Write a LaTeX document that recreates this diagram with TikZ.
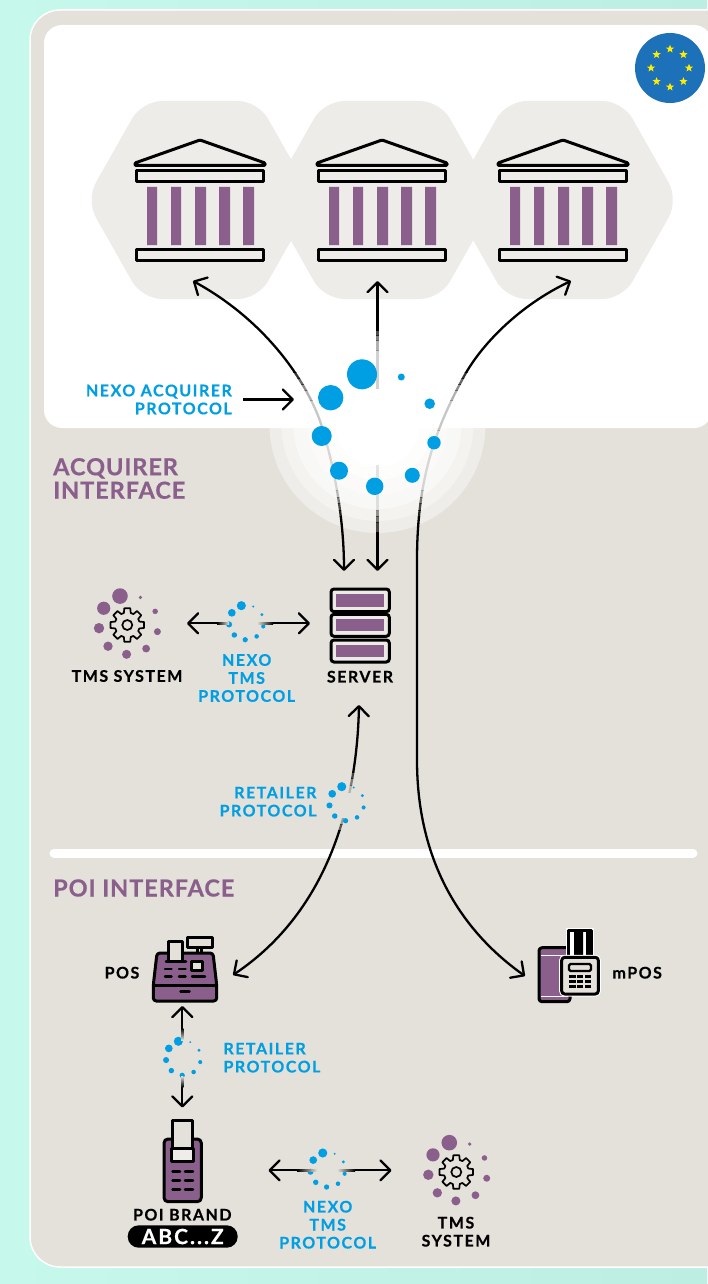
\documentclass[tikz,border=0pt]{standalone}
\usepackage{fontspec}
\setmainfont{Lato}
\newfontfamily\wide{Lato}[LetterSpace=9.5,FakeBold=0.5]
\newfontfamily\widehead{Lato}[LetterSpace=4.0,FakeBold=0.6]
\usetikzlibrary{arrows.meta,shapes.geometric,calc}
\definecolor{panel}{HTML}{E4E1DA}
\definecolor{hexc}{HTML}{EDECE8}
\definecolor{purp}{HTML}{8B5F8C}
\definecolor{blu}{HTML}{009FE3}
\definecolor{euc}{HTML}{1D71B8}
\definecolor{eustar}{HTML}{FFED00}
\definecolor{mintl}{HTML}{C6F9EC}
\definecolor{mintr}{HTML}{BCEFE2}
\tikzset{
  conn/.style={line width=2.3pt,draw=black,>={Straight Barb[length=10pt,width=20pt,round]}},
  ico/.style={line width=3pt,draw=black,line join=round},
  key/.style={line width=2.5pt,draw=black,line cap=round},
  bluet/.style={text=blu,font=\wide\bfseries\fontsize{16}{18}\selectfont,inner sep=0pt,align=center},
  blackt/.style={text=black,font=\wide\bfseries\fontsize{16}{18}\selectfont,inner sep=0pt,align=center},
  head/.style={text=purp,font=\widehead\bfseries\fontsize{23.5}{23.5}\selectfont,inner sep=0pt,align=left,anchor=west},
}
\newcommand\fadedpath[3]{\foreach \ya/\yb/\op in #1{\begin{scope}\clip (0,\ya) rectangle (707,\yb);\draw[conn,opacity=\op,#2] #3;\end{scope}}}
\newcommand\spinner[4]{\begin{scope}[shift={(#1,#2)},scale=#3]
  \fill[#4] (-16,-53.7) circle (15) (-47.3,-30.3) circle (12.7) (-56.3,8) circle (10)
   (-39,42.7) circle (9) (-3.3,58.3) circle (8.7) (34.3,47.3) circle (7.5)
   (56,14.7) circle (6.7) (51.7,-24.3) circle (5.3) (23.3,-51) circle (3.5);
\end{scope}}
\newcommand\gear[2]{\begin{scope}[shift={(#1,#2)}]
  \draw[line width=1.7pt,line join=round] (-16:12.5) \foreach \i in {0,...,7}{ -- (\i*45-16:12.5) -- (\i*45-10:17) -- (\i*45+10:17) -- (\i*45+16:12.5)} -- cycle;
  \draw[line width=1.7pt] (0,0) circle (5);
\end{scope}}
\newcommand\hexa[1]{\fill[hexc,rounded corners=20pt,shift={(#1,200)}] (-58,-99) -- (58,-99) -- (114,0) -- (58,99) -- (-58,99) -- (-114,0) -- cycle;}
\newcommand\bankicon[1]{\begin{scope}[shift={(#1,200)}]
  \draw[ico,rounded corners=1pt] (0,-60) -- (65,-37) -- (65,-34.5) -- (-65,-34.5) -- (-65,-37) -- cycle;
  \draw[ico] (-63.5,-29) rectangle (63.5,-18);
  \draw[ico] (-63.5,49.5) rectangle (63.5,60);
  \fill[purp] (-53,-13) rectangle (-43,45) (-29,-13) rectangle (-19,45) (-5,-13) rectangle (6,45) (19,-13) rectangle (30,45) (43,-13) rectangle (54,45);
\end{scope}}
\def\bandsL{270/372/1,372/378/.8,378/384/.6,384/390/.45,390/400/.3,400/430/.22,430/490/.14,490/497/.25,497/503/.5,503/510/.7,510/516/.85,516/995/1}
\def\bandsU{270/330/1,330/335/.7,335/340/.5,340/350/.3,350/390/.18}
\def\bandsD{465/510/.1,510/516/.4,516/522/.55,522/532/.7,532/580/1}
\def\bandsR{695/772/1,772/778/.7,778/785/.45,785/792/.2,818/824/.3,824/830/.6,830/990/1}
\begin{document}
\begin{tikzpicture}[x=1pt,y=-1pt]
\useasboundingbox (0,0) rectangle (707,1284);
% background
\shade[left color=mintl,right color=mintr] (0,0) rectangle (707,1284);
\fill[panel,draw=white,line width=1.5pt,rounded corners=30pt] (30,10) rectangle (740,1267);
% glow
\fill[panel!60!white] (377.5,425) circle (108);
\fill[panel!40!white] (377.5,425) circle (96);
\fill[panel!25!white] (377.5,425) circle (84);
\fill[panel!15!white] (377.5,425) circle (70);
\fill[panel!8!white] (377.5,425) circle (55);
\fill[white] (377.5,425) circle (42);
% white panel
\fill[white,rounded corners=18pt] (44,25) rectangle (712,428);
% separator
\draw[white,line width=9pt,line cap=round] (54,853) -- (693,853);
% EU
\fill[euc] (670,68) circle (35);
\foreach \a in {0,45,...,315}{\node[star,star points=5,star point ratio=2.3,fill=eustar,inner sep=0pt,minimum size=8.5pt] at ($(670,68)+(\a:19)$) {};}
% banks
\hexa{200}\hexa{382}\hexa{564.5}
\bankicon{200}\bankicon{382}\bankicon{563}
% connector ends
\coordinate (bankA) at (193,281);
\coordinate (bankB) at (377.5,281);
\coordinate (bankC) at (571,281);
\coordinate (srvL) at (344,571);
\coordinate (srvM) at (377.5,571);
\coordinate (srvB) at (359,705);
\coordinate (posR) at (233,975);
\coordinate (mposL) at (525,976);
\coordinate (midTop) at (377.5,389);
\coordinate (midBot) at (377.5,465);
\fadedpath{\bandsL}{<->}{(srvL) .. controls (344,520) and (335,470) .. (322,427) .. controls (309,385) and (268,322) .. (bankA)}
\fadedpath{\bandsL}{<->}{(mposL) .. controls (460,930) and (417,860) .. (417,760) -- (417,560) .. controls (417,480) and (435,430) .. (462,380) .. controls (480,345) and (520,305) .. (bankC)}
\fadedpath{\bandsU}{->}{(midTop) -- (bankB)}
\fadedpath{\bandsD}{->}{(midBot) -- (srvM)}
\fadedpath{\bandsR}{<->}{(srvB) .. controls (357,800) and (330,910) .. (posR)}
% nexo acquirer arrow
\node[bluet,align=right,anchor=east] (nexoacq) at (232,399.5) {NEXO ACQUIRER\\PROTOCOL};
\coordinate (nexoA) at (243,399.5);
\coordinate (nexoB) at (294,399.5);
\draw[conn,->] (nexoA) -- (nexoB);
% spinners
\spinner{378}{428}{1}{blu}
\spinner{246.2}{622}{.304}{blu}
\spinner{346.6}{803}{.304}{blu}
\spinner{183.2}{1057.6}{.304}{blu}
\spinner{327.6}{1169.3}{.304}{blu}
\spinner{128.3}{624}{.52}{purp}
\spinner{457.6}{1170.6}{.52}{purp}
\gear{127.3}{625}
\gear{456.3}{1172}
% TMS arrows
\coordinate (tmsR) at (187,623.3);
\coordinate (srvW) at (310,623.3);
\draw[conn,->] (217,623.3) -- (tmsR);
\shade[left color=black,right color=panel] (217,622.15) rectangle (229,624.45);
\draw[conn,->] (273,623.3) -- (srvW);
\shade[left color=panel,right color=black] (257,622.15) rectangle (273,624.45);
% POS POI arrows
\coordinate (posB) at (182.3,1006);
\coordinate (poiT) at (182.3,1107.5);
\draw[conn,->] (182.3,1028) -- (posB);
\shade[top color=black,bottom color=panel] (181.15,1028) rectangle (183.45,1040);
\draw[conn,->] (182.3,1087) -- (poiT);
\shade[top color=panel,bottom color=black] (181.15,1076) rectangle (183.45,1087);
% bottom TMS arrows
\coordinate (poiR) at (268.5,1170.3);
\coordinate (tmsL) at (391.5,1170.3);
\draw[conn,->] (297,1170.3) -- (poiR);
\shade[left color=black,right color=panel] (297,1169.15) rectangle (317,1171.45);
\draw[conn,->] (355,1170.3) -- (tmsL);
\shade[left color=panel,right color=black] (337,1169.15) rectangle (355,1171.45);
% server icon
\foreach \ya/\yb in {589/611.7,614.3/636.3,640/662}{
 \draw[line width=3pt,fill=panel!70!white,rounded corners=3pt] (331,\ya) rectangle (389.3,\yb);
 \fill[purp] (335.7,\ya+5) rectangle (384.3,\yb-5);}
% POS icon
\draw[ico,fill=panel] (187.7,937.7) rectangle (212.7,947.3);
\draw[ico,fill=panel] (197,947.3) rectangle (201.5,953);
\draw[ico,fill=purp,rounded corners=3pt] (157,953) -- (213,953) -- (216.7,985) -- (216.7,1001) -- (153.3,1001) -- (153.3,985) -- cycle;
\draw[line width=3pt] (153.3,985) -- (216.7,985);
\draw[ico,fill=panel] (168.7,941.7) rectangle (182,961.7);
\draw[key] (166,961.7) -- (186,961.7);
\draw[ico,fill=panel] (191.7,961.7) rectangle (202.7,970);
\foreach \x in {165,179}{\draw[key] (\x,969) -- (\x+6.5,969) (\x,976.7) -- (\x+6.5,976.7);}
\draw[key] (192,976.7) -- (205,976.7);
\draw[key] (180.5,991.7) -- (189.5,991.7);
% POI icon
\draw[ico,fill=purp,rounded corners=4pt] (164,1139) rectangle (201.3,1201.7);
\draw[ico,fill=panel] (172.7,1120.7) rectangle (192,1150);
\draw[ico,fill=panel!60!white] (171.7,1148.3) rectangle (193.3,1161.7);
\foreach \y in {1171.7,1180.7,1189.3}{\draw[key] (172.5,\y) -- (180,\y) (185,\y) -- (193,\y);}
% mPOS icon
\draw[ico,fill=purp,rounded corners=3pt] (539,947.7) rectangle (570,1001.7);
\draw[white,line width=.8pt] (541,955.7) -- (568,955.7) (541,996) -- (568,996);
\draw[line width=4pt,white] (568.3,930) rectangle (591.7,957);
\draw[ico,fill=white] (568.3,930) rectangle (591.7,957);
\fill[black] (574,931) rectangle (583,957) (586,931) rectangle (590,957);
\draw[white,line width=5pt,rounded corners=3pt] (561.7,957.3) rectangle (598.3,994);
\draw[ico,fill=panel,rounded corners=3pt] (561.7,957.3) rectangle (598.3,994);
\draw[line width=2.3pt,fill=panel,rounded corners=1.5pt] (569,964) rectangle (591,971);
\foreach \y in {976.7,981.7,986.7}{\draw[line width=3pt,draw=black] (569.3,\y) -- (576,\y) (577.3,\y) -- (582.7,\y) (585,\y) -- (590.7,\y);}
% labels
\node[head] (acq) at (53,478.5) {ACQUIRER\\INTERFACE};
\node[head] (poi) at (53,888) {POI INTERFACE};
\node[blackt] (tms1) at (127,676) {TMS SYSTEM};
\node[blackt] (srv) at (360,676.7) {SERVER};
\node[bluet] (nexo1) at (246.7,678) {NEXO\\TMS\\PROTOCOL};
\node[bluet,align=right,anchor=east] (ret1) at (316.7,801.7) {RETAILER\\PROTOCOL};
\node[blackt] (pos) at (122,972.7) {POS};
\node[blackt,anchor=west] (mpos) at (612.3,972.7) {mPOS};
\node[bluet,align=left,anchor=west] (ret2) at (223.3,1057.7) {RETAILER\\PROTOCOL};
\node[blackt] (poib) at (182.3,1214.7) {POI BRAND};
\node[fill=black,rounded corners=11pt,minimum width=110pt,minimum height=22.4pt,inner sep=0pt,text=white,font=\wide\bfseries\fontsize{21}{21}\selectfont] (abc) at (182.7,1236.5) {ABC...Z};
\node[bluet] (nexo2) at (327.7,1224.7) {NEXO\\TMS\\PROTOCOL};
\node[blackt] (tms2) at (456,1231.7) {TMS\\SYSTEM};
\end{tikzpicture}
\end{document}
